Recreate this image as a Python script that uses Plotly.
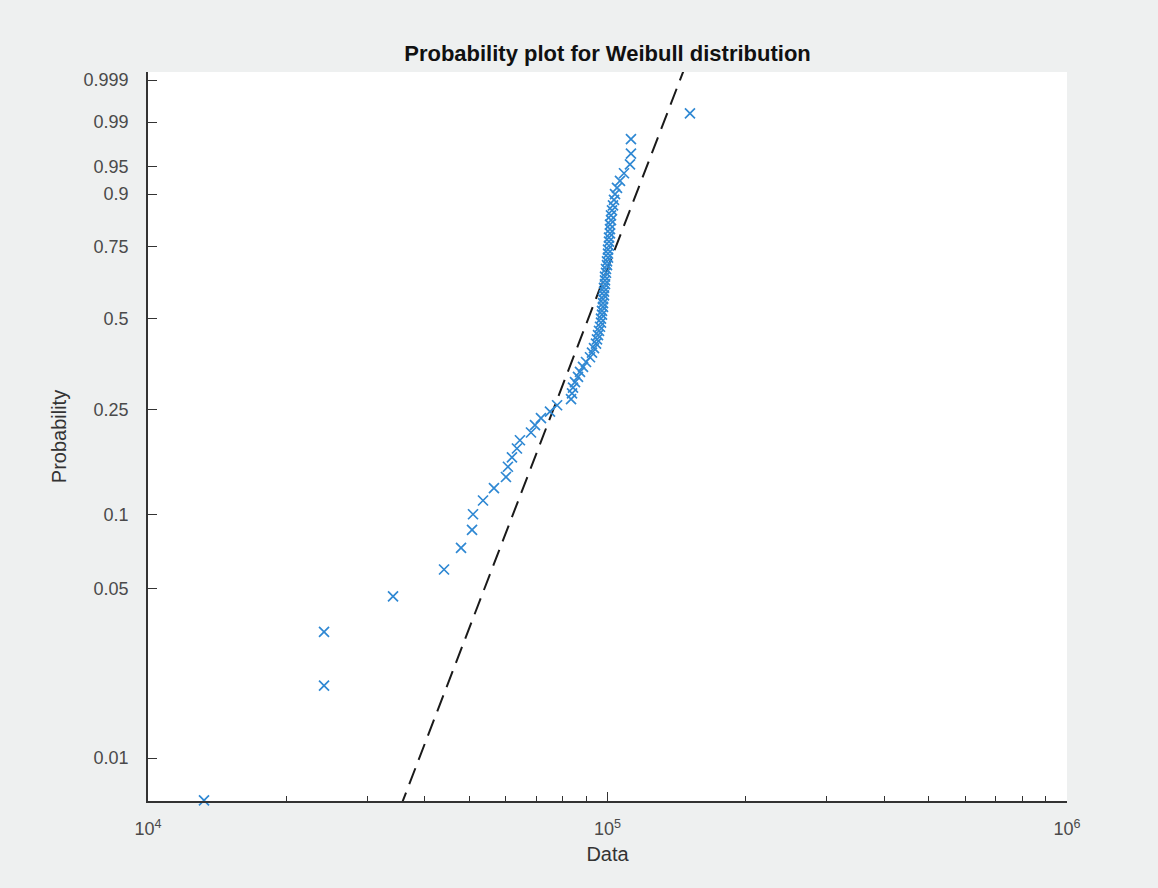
import numpy as np
import plotly.graph_objects as go

# Sorted sample values
data_values = [
    13240, 24160, 24160, 34140, 44080, 48000, 50720, 50970, 53590, 56610,
    60120, 60720, 61950, 63520, 64480, 68150, 69530, 71650, 74960, 77680,
    83300, 83710, 84130, 84970, 86260, 87130, 88450, 89790, 91610, 92530,
    93460, 94400, 94870, 95350, 95830, 96310, 96790, 96790, 97280, 97280,
    97770, 97770, 97770, 98260, 98260, 98260, 98760, 98760, 98760, 99250,
    99250, 99750, 99750, 100250, 100250, 100250, 100750, 100750, 100750, 101260,
    101260, 101260, 101770, 101770, 102280, 102790, 103310, 103830, 104880, 106460,
    108610, 111910, 112470, 112470, 151160,
]

# Fitted Weibull parameters (scale, shape)
weibull_scale = 97700
weibull_shape = 5.0

# Probability tick labels
prob_ticks = [0.01, 0.05, 0.1, 0.25, 0.5, 0.75, 0.9, 0.95, 0.99, 0.999]
prob_labels = ["0.01", "0.05", "0.1", "0.25", "0.5", "0.75", "0.9", "0.95", "0.99", "0.999"]

x_tickvals = [1e4, 1e5, 1e6]
x_ticktext = ["10<sup>4</sup>", "10<sup>5</sup>", "10<sup>6</sup>"]


def weib(p):
    p = np.asarray(p, dtype=float)
    return np.log(-np.log(1.0 - p))


n = len(data_values)
pos = (np.arange(1, n + 1) - 0.5) / n  # plotting positions
y_pts = weib(pos)

x_line = np.array([1e4, 1e6])
y_line = weibull_shape * np.log(x_line / weibull_scale)

FONT = "Liberation Sans, Arial, Helvetica, sans-serif"

fig = go.Figure()
fig.add_trace(go.Scatter(
    x=x_line, y=y_line, mode="lines",
    line=dict(color="#1a1a1a", width=2, dash="17px,9px"),
    hoverinfo="skip", showlegend=False,
))
fig.add_trace(go.Scatter(
    x=data_values, y=y_pts, mode="markers",
    marker=dict(symbol="x-thin", size=10, line=dict(color="#2f88d3", width=1.7)),
    showlegend=False, cliponaxis=False,
))

tick_font = dict(family=FONT, size=18, color="#4a4a4a")

fig.update_layout(
    width=1158, height=888,
    paper_bgcolor="#eef0f0", plot_bgcolor="#ffffff",
    margin=dict(l=148, r=91, t=72, b=87),
    title=dict(
        text="<b>Probability plot for Weibull distribution</b>",
        x=0.5, xref="paper", xanchor="center",
        y=1, yref="paper", yanchor="bottom", pad=dict(b=11),
        font=dict(family=FONT, size=22, color="#111111"),
    ),
    xaxis=dict(
        type="log", range=[4, 6],
        tickmode="array", tickvals=x_tickvals, ticktext=x_ticktext,
        ticks="inside", ticklen=9, tickwidth=1.3, tickcolor="#333333",
        minor=dict(
            tickmode="array",
            tickvals=[k * 10 ** e for e in (4, 5) for k in range(2, 10)],
            ticks="inside", ticklen=5, tickwidth=1.2, tickcolor="#333333",
        ),
        showgrid=False, zeroline=False,
        showline=True, linecolor="#333333", linewidth=1.6, mirror=False,
        tickfont=tick_font, ticklabelstandoff=11,
        title=dict(text="Data", standoff=9,
                   font=dict(family=FONT, size=20, color="#333333")),
    ),
    yaxis=dict(
        range=[-5.013, 2.01],
        tickmode="array", tickvals=list(weib(prob_ticks)), ticktext=prob_labels,
        ticks="inside", ticklen=9, tickwidth=1.3, tickcolor="#333333",
        showgrid=False, zeroline=False,
        showline=True, linecolor="#333333", linewidth=1.6, mirror=False,
        tickfont=tick_font, ticklabelstandoff=14,
        title=dict(text="Probability", standoff=12,
                   font=dict(family=FONT, size=20, color="#333333")),
    ),
)

fig.write_html("out.html")
